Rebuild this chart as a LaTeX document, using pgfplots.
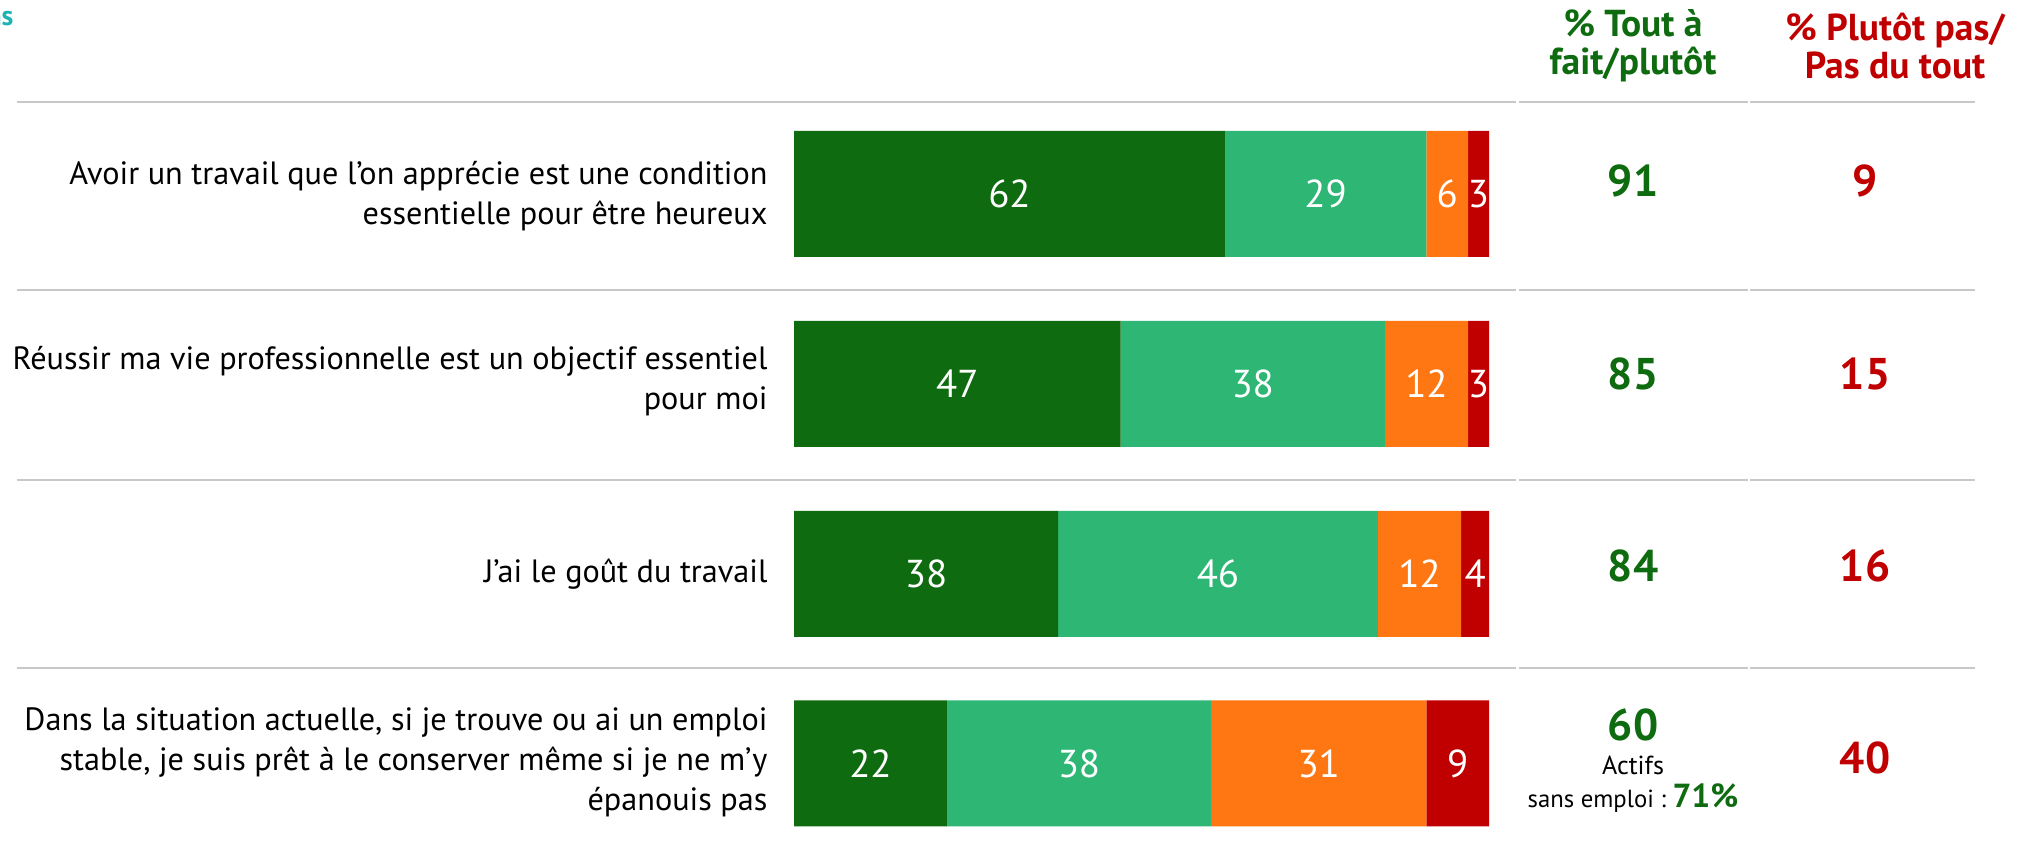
\documentclass[border=0pt]{standalone}
\usepackage{fontspec}
\setmainfont{PT Sans}
\usepackage{pgfplots}
\pgfplotsset{compat=1.18}
\usepackage{pgfplotstable}

\definecolor{dkgreen}{RGB}{15,107,15}
\definecolor{ltgreen}{RGB}{45,182,116}
\definecolor{orangebar}{RGB}{255,119,18}
\definecolor{redbar}{RGB}{192,0,0}
\definecolor{sepgray}{RGB}{200,200,200}
\definecolor{tealtxt}{RGB}{29,179,179}

% y = row centre (in pixels from top), a..d = shares
\pgfplotstableread{
y     a  b  c  d
194   62 29 6  3
384   47 38 12 3
574   38 46 12 4
763.5 22 38 31 9
}\datatable

\begin{document}
\begin{tikzpicture}
\begin{axis}[
    scale only axis,
    width=726.48pt, height=306.72pt,
    xmin=-114.245, xmax=176.115,
    ymin=0, ymax=852, y dir=reverse,
    hide axis, clip=false,
    xbar stacked, bar width=126,
    /pgf/number format/assume math mode=true,
    nodes near coords,
    every node near coord/.append style={font=\fontsize{14}{16}\selectfont, text=white},
]
\addplot[fill=dkgreen, draw=none] table[x=a, y=y]{\datatable};
\addplot[fill=ltgreen, draw=none] table[x=b, y=y]{\datatable};
\addplot[fill=orangebar, draw=none] table[x=c, y=y]{\datatable};
\addplot[fill=redbar, draw=none] table[x=d, y=y]{\datatable};

% separators
\pgfplotsinvokeforeach{102,290,480,668}{
  \draw[sepgray, line width=0.72pt] (axis cs:-111.8,#1) -- (axis cs:103.88,#1);
  \draw[sepgray, line width=0.72pt] (axis cs:104.32,#1) -- (axis cs:137.27,#1);
  \draw[sepgray, line width=0.72pt] (axis cs:137.55,#1) -- (axis cs:169.93,#1);
}

% headers
\node[font=\fontsize{13.5}{13.7}\selectfont\bfseries, text=dkgreen, align=center] at (axis cs:120.72,46) {\% Tout à\\fait/plutôt};
\node[font=\fontsize{13.5}{13.7}\selectfont\bfseries, text=redbar, align=center] at (axis cs:158.42,46) {\% Plutôt pas/\\Pas du tout};

% row labels
\tikzset{lbl/.style={anchor=east, align=right, inner xsep=0pt, font=\fontsize{11.6}{14.4}\selectfont}}
\node[lbl] at (axis cs:-3.74,196) {Avoir un travail que l'on apprécie est une condition\\essentielle pour être heureux};
\node[lbl] at (axis cs:-3.74,381) {Réussir ma vie professionnelle est un objectif essentiel\\pour moi};
\node[lbl] at (axis cs:-3.74,574) {J'ai le goût du travail};
\node[lbl] at (axis cs:-3.74,762) {Dans la situation actuelle, si je trouve ou ai un emploi\\stable, je suis prêt à le conserver même si je ne m'y\\épanouis pas};

% totals
\tikzset{tot/.style={font=\fontsize{16}{18}\selectfont\bfseries}}
\node[tot, text=dkgreen] at (axis cs:120.72,181) {91};
\node[tot, text=redbar] at (axis cs:154.10,181) {9};
\node[tot, text=dkgreen] at (axis cs:120.72,374) {85};
\node[tot, text=redbar] at (axis cs:154.10,374) {15};
\node[tot, text=dkgreen] at (axis cs:120.72,566) {84};
\node[tot, text=redbar] at (axis cs:154.10,566) {16};
\node[tot, text=dkgreen] at (axis cs:120.72,725) {60};
\node[tot, text=redbar] at (axis cs:154.10,758) {40};
\node[font=\fontsize{9.4}{10}\selectfont] at (axis cs:120.72,765) {Actifs};
\node[font=\fontsize{8.9}{10}\selectfont] at (axis cs:120.72,798) {sans emploi :\ {\fontsize{12}{12}\selectfont\bfseries\color{dkgreen}71\%}};

% cut-off word in the corner
\node[overlay, anchor=east, inner sep=0pt, font=\fontsize{10}{12}\selectfont\bfseries, text=tealtxt] at (axis cs:-112.23,19) {ns};

\path (axis cs:-114.245,0) rectangle (axis cs:176.115,852);
\end{axis}
\end{tikzpicture}
\end{document}
